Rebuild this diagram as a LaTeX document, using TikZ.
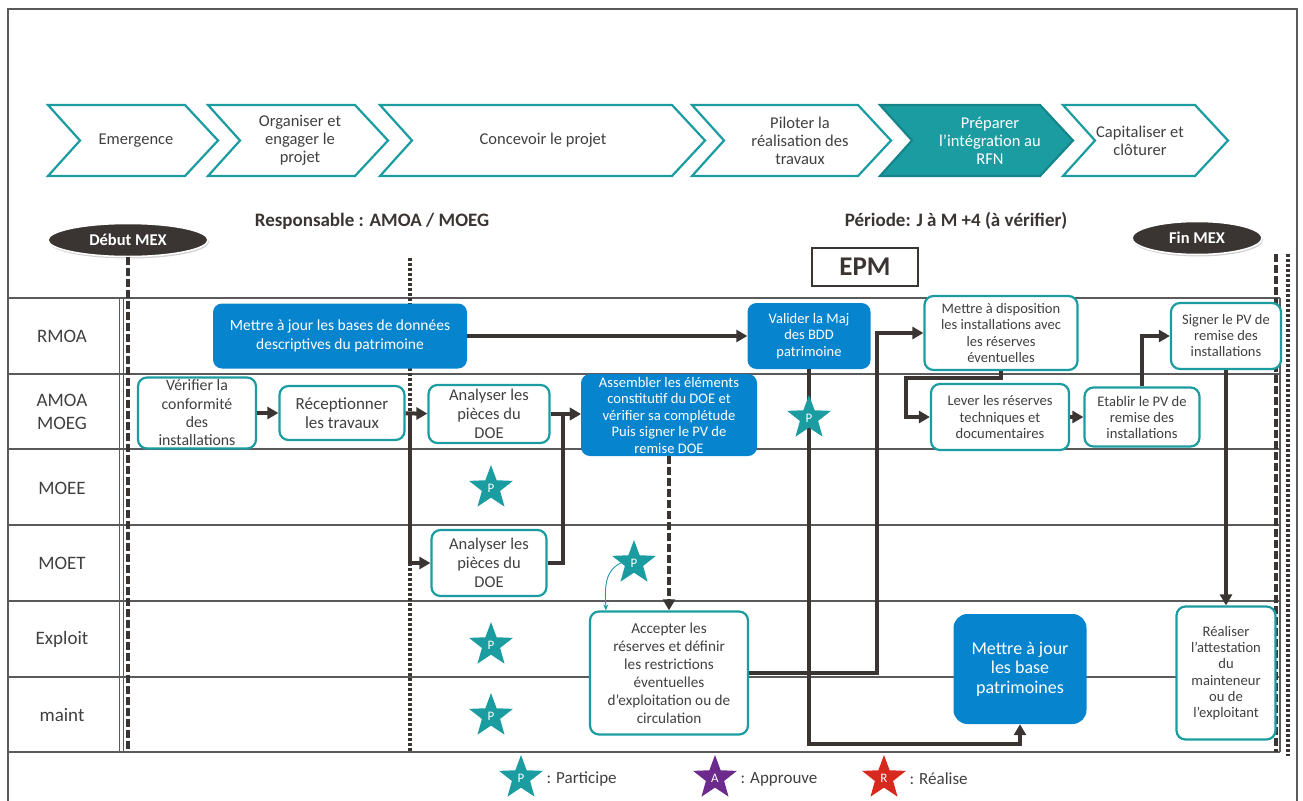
\documentclass[tikz,border=0pt]{standalone}
\usepackage{fontspec}
\setmainfont{Carlito}
\usepackage{xcolor}
\usepackage{tikz}
\usetikzlibrary{shapes.geometric, arrows.meta, shadows}
\definecolor{mex_teal}{HTML}{1A9CA1}
\definecolor{mex_blue}{HTML}{0784CE}
\definecolor{mex_dark}{HTML}{3A3532}
\definecolor{mex_gray}{HTML}{5A5A5A}
\definecolor{mex_text}{HTML}{404040}
\definecolor{mex_purple}{HTML}{6B2A8C}
\definecolor{mex_red}{HTML}{D8291E}

\begin{document}
\begin{tikzpicture}[>={Triangle[length=11pt,width=12pt]}, x=1pt, y=-1pt,
  every node/.style={font=\fontsize{15.2}{18}\selectfont, align=center, text=mex_text},
  phase/.style={font=\fontsize{16.5}{18}\selectfont},
  lane_label/.style={font=\fontsize{19}{23}\selectfont},
  header/.style={font=\bfseries\fontsize{19}{22}\selectfont, text=mex_dark},
  mex_oval/.style={ellipse, fill=mex_dark, draw=white, line width=1.5pt,
    drop shadow={opacity=0.35, shadow xshift=1pt, shadow yshift=-2pt},
    minimum height=33, text=white, font=\bfseries\fontsize{16.5}{18}\selectfont},
  blue_box/.style={fill=mex_blue, rounded corners=9pt, text=white, inner sep=2pt},
  white_box/.style={draw=mex_teal, fill=white, line width=2.2pt, rounded corners=9pt, inner sep=2pt},
  flow/.style={mex_dark, line width=4pt},
  star_p/.style={star, star points=5, star point ratio=2.4, fill=mex_teal, minimum size=46,
    inner sep=0pt, text=white, font=\fontsize{13}{14}\selectfont}]

  \useasboundingbox (0,0) rectangle (1303,800);
  \draw[mex_gray, line width=1.2pt] (8,805) -- (8,9) -- (1297,9) -- (1297,805);

  % phases
  \foreach \xa/\xb/\xt/\nm/\txt in {48/185/136/ph1/Emergence,
      208/355/300/ph2/{Organiser et\\engager le\\projet},
      380/672/543/ph3/{Concevoir le projet},
      692/858/800/ph4/{Piloter la\\réalisation des\\travaux},
      1063/1195/1140/ph6/{Capitaliser et\\clôturer}}
  {
    \draw[mex_teal, line width=2.2pt, fill=white] (\xa,105) -- (\xb,105) -- ({\xb+33},140.5)
      -- (\xb,176) -- (\xa,176) -- ({\xa+32},140.5) -- cycle;
    \node[phase] (\nm) at (\xt,140.5) {\txt};
  }
  \draw[mex_teal!85!black, line width=2.2pt, fill=mex_teal] (880,105) -- (1040,105) -- (1073,140.5)
    -- (1040,176) -- (880,176) -- (912,140.5) -- cycle;
  \node[phase, text=white] (ph5) at (990,140.5) {Préparer\\l’intégration au\\RFN};

  \node[header] (resp) at (372,221) {Responsable : AMOA / MOEG};
  \node[header] (periode) at (956,221) {Période: J à M +4 (à vérifier)};
  \node[mex_oval, minimum width=160] (debut) at (128,240) {Début MEX};
  \node[mex_oval, minimum width=130] (fin) at (1197,238) {Fin MEX};
  \node[draw=mex_dark, line width=1.8pt, minimum width=106, minimum height=38, text=mex_dark,
    font=\bfseries\fontsize{27}{30}\selectfont] (epm) at (865,267) {EPM};

  % lanes
  \foreach \y in {298,374,449,525,601,677,752}
    \draw[mex_gray, line width=1.5pt] (8,\y) -- (1280,\y);
  \draw[mex_gray, line width=1pt] (119,298) -- (119,752);
  \draw[mex_gray, line width=1pt] (123,298) -- (123,752);
  \draw[mex_gray, line width=1.5pt] (1280,298) -- (1280,752);

  \node[lane_label] (rmoa) at (62,336) {RMOA};
  \node[lane_label] (amoa) at (62,412) {AMOA\\MOEG};
  \node[lane_label] (moee) at (62,488) {MOEE};
  \node[lane_label] (moet) at (62,563) {MOET};
  \node[lane_label] (exploit) at (62,639) {Exploit};
  \node[lane_label] (maint) at (62,715) {maint};

  % jalons
  \coordinate (debut_end) at (128,752);
  \coordinate (split_top) at (410,258);
  \coordinate (split_end) at (410,752);
  \coordinate (fin_a) at (1276,254);
  \coordinate (fin_a_end) at (1276,752);
  \coordinate (fin_b) at (1288,254);
  \coordinate (fin_b_end) at (1288,756);
  \draw[mex_dark, line width=4pt, dash pattern=on 8pt off 3pt] (debut.south) -- (debut_end);
  \draw[mex_dark, line width=4pt, dash pattern=on 3pt off 2pt] (split_top) -- (split_end);
  \draw[mex_dark, line width=4pt, dash pattern=on 8pt off 3pt] (fin_a) -- (fin_a_end);
  \draw[mex_dark, line width=4pt, dash pattern=on 3pt off 2pt] (fin_b) -- (fin_b_end);

  % RMOA
  \node[blue_box, minimum width=254, minimum height=65, font=\fontsize{15.5}{18.5}\selectfont] (B1) at (340,336)
    {Mettre à jour les bases de données\\descriptives du patrimoine};
  \node[blue_box, minimum width=123, minimum height=66, font=\fontsize{14.5}{16.5}\selectfont] (B2) at (809,336)
    {Valider la Maj\\des BDD\\patrimoine};
  \node[white_box, minimum width=153, minimum height=74, font=\fontsize{14.5}{16.5}\selectfont] (B3) at (1001,333)
    {Mettre à disposition\\les installations avec\\les réserves\\éventuelles};
  \node[white_box, minimum width=110, minimum height=66, font=\fontsize{14.5}{16}\selectfont] (B4) at (1226,336)
    {Signer le PV de\\remise des\\installations};

  % AMOA / MOEG
  \node[white_box, minimum width=118, minimum height=71, font=\fontsize{15.8}{18.3}\selectfont] (A1) at (197,413)
    {Vérifier la\\conformité\\des\\installations};
  \node[white_box, minimum width=125, minimum height=54, font=\fontsize{17}{19}\selectfont] (A2) at (342,413)
    {Réceptionner\\les travaux};
  \node[white_box, minimum width=121, minimum height=58, font=\fontsize{16.5}{19}\selectfont] (A3) at (489,414)
    {Analyser les\\pièces du\\DOE};
  \node[blue_box, minimum width=176, minimum height=82, font=\fontsize{14.6}{16.5}\selectfont] (A4) at (669,415)
    {Assembler les éléments\\constitutif du DOE et\\vérifier sa complétude\\Puis signer le PV de\\remise DOE};
  \node[white_box, minimum width=138, minimum height=66, font=\fontsize{14.6}{16.5}\selectfont] (A5) at (1000,417)
    {Lever les réserves\\techniques et\\documentaires};
  \node[white_box, minimum width=115, minimum height=59, font=\fontsize{14.6}{16}\selectfont] (A6) at (1142,417)
    {Etablir le PV de\\remise des\\installations};

  % MOET
  \node[white_box, minimum width=115, minimum height=66, font=\fontsize{16.5}{19}\selectfont] (T1) at (489,563)
    {Analyser les\\pièces du\\DOE};

  % Exploit / maint
  \node[white_box, minimum width=158, minimum height=123] (E1) at (669,673)
    {Accepter les\\réserves et définir\\les restrictions\\éventuelles\\d’exploitation ou de\\circulation};
  \node[blue_box, minimum width=133, minimum height=110, rounded corners=14pt,
    font=\fontsize{18}{19.5}\selectfont] (E2) at (1020,669)
    {Mettre à jour\\les base\\patrimoines};
  \node[white_box, minimum width=99, minimum height=133, font=\fontsize{14.6}{16.3}\selectfont] (E3) at (1226,673)
    {Réaliser\\l’attestation\\du\\mainteneur\\ou de\\l’exploitant};

  % flux
  \draw[flow, ->] (B1) -- (B2);
  \draw[flow, ->] (A1) -- (A2);
  \draw[flow, ->] (A2) -- (A3);
  \draw[flow, ->] (A2.east -| split_top) |- (T1.west);
  \draw[flow, ->] (A3.east) -- (A4.west |- A3.east);
  \draw[flow, ->] (T1.east) -- ++(15,0) |- (A4.west |- A3.east);
  \draw[flow, ->, dash pattern=on 8pt off 3pt] (A4.south) -- (E1.north);
  \draw[flow, ->] (B2.south) -- ++(0,375) -| (E2.south);
  \draw[flow, ->] (E1.east) -- ++(128,0) |- (B3.west);
  \draw[flow, ->] (B3.south) -- ++(0,7) -- ++(-95,0) |- (A5.west);
  \draw[flow, ->] (A5) -- (A6);
  \draw[flow, ->] (A6.north) |- (B4.west);
  \draw[flow, ->] (B4.south) -- (E3.north);

  % participants
  \node[star_p] (s1) at (491,488) {P};
  \node[star_p] (s2) at (491,645) {P};
  \node[star_p] (s3) at (491,716) {P};
  \node[star_p] (s4) at (809,418) {P};
  \node[star_p] (s5) at (634,563) {P};
  \draw[mex_teal, line width=0.9pt, -{Stealth[length=6pt,width=5pt]}] (s5.west)
    to[out=205, in=92] ([xshift=17pt]E1.north west);

  % legende
  \node[star_p] (leg_p) at (521,778) {P};
  \node[star_p, fill=mex_purple] (leg_a) at (715,778) {A};
  \node[star_p, fill=mex_red] (leg_r) at (884,778) {R};
  \node[anchor=west, font=\fontsize{17}{19}\selectfont] (leg_p_txt) at (543,779) {: Participe};
  \node[anchor=west, font=\fontsize{17}{19}\selectfont] (leg_a_txt) at (737,779) {: Approuve};
  \node[anchor=west, font=\fontsize{17}{19}\selectfont] (leg_r_txt) at (906,779) {: Réalise};

\end{tikzpicture}
\end{document}
